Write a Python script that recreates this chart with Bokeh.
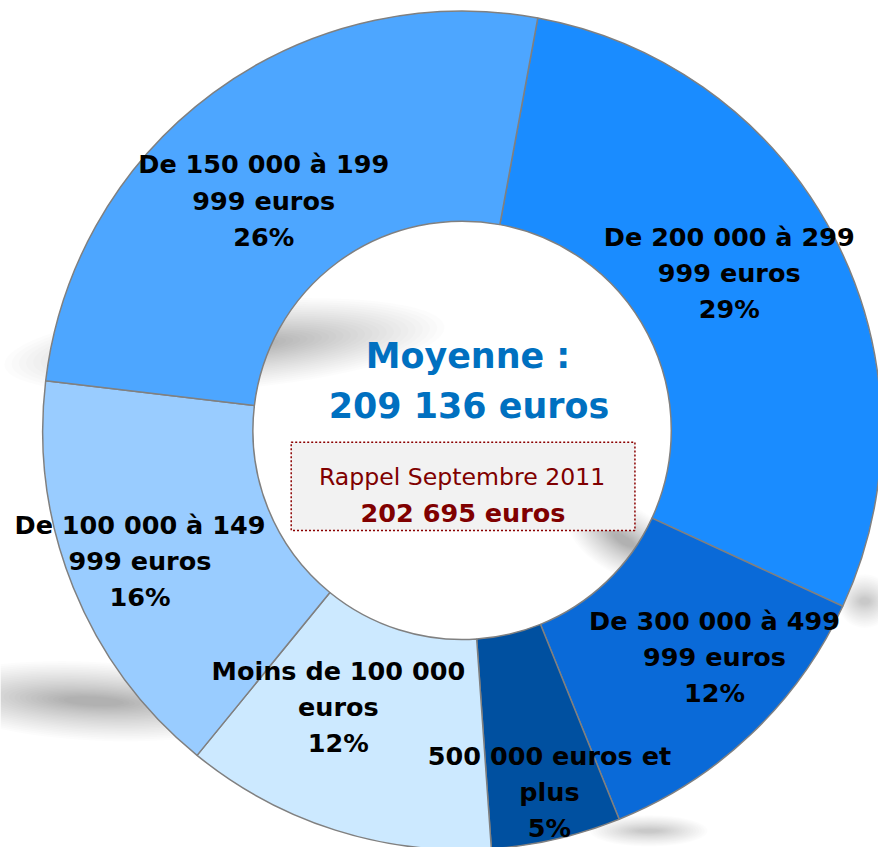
import math
from bokeh.plotting import figure
from bokeh.models import Range1d
from bokeh.embed import file_html
from bokeh.resources import INLINE
from bokeh.core.properties import value

# ---------------- data ----------------
categories = [
    "De 200 000 à 299 999 euros",
    "De 300 000 à 499 999 euros",
    "500 000 euros et plus",
    "Moins de 100 000 euros",
    "De 100 000 à 149 999 euros",
    "De 150 000 à 199 999 euros",
]
percent = [29, 12, 5, 12, 16, 26]
label_lines = [
    ["De 200 000 à 299", "999 euros"],
    ["De 300 000 à 499", "999 euros"],
    ["500 000 euros et", "plus"],
    ["Moins de 100 000", "euros"],
    ["De 100 000 à 149", "999 euros"],
    ["De 150 000 à 199", "999 euros"],
]
colors = ["#1a8cff", "#0a6ad8", "#0050a0", "#cce9ff", "#99ccff", "#4da6ff"]
mean_title = "Moyenne :"
mean_value = "209 136 euros"
recall_title = "Rappel Septembre 2011"
recall_value = "202 695 euros"

# ---------------- layout ----------------
REF_W, REF_H = 894, 863          # coordinate space of the reference
W, H = 878, 847                  # figure size (fits the window with margins)
S = W / REF_W                    # px per unit

def Y(py):
    return REF_H - py

def fs(px):
    return f"{px * S:.1f}px"

p = figure(width=W, height=H, output_backend="svg", toolbar_location=None,
           x_range=Range1d(0, REF_W), y_range=Range1d(0, REF_H),
           min_border=0)
p.axis.visible = False
p.grid.visible = False
p.outline_line_color = None
p.background_fill_color = "white"
p.border_fill_color = "white"

FONT = value("DejaVu Sans")

# soft shadows (stacked translucent ellipses)
def blob(cx, cy, w, h, ang_deg, n=26, a=0.011):
    for k in range(n):
        s = 1.0 - 0.85 * k / n
        p.ellipse(x=[cx], y=[Y(cy)], width=[w * s], height=[h * s * (0.6 + 0.4 * s)],
                  angle=[math.radians(ang_deg)], fill_color="black",
                  fill_alpha=a, line_color=None)

blob(228, 352, 450, 90, 5)
blob(95, 714, 340, 80, -3)
blob(635, 550, 130, 70, -30)
blob(880, 612, 55, 55, 0, n=18, a=0.010)
blob(660, 846, 120, 32, 0, n=18, a=0.010)

# donut
CX, CY = 470, 438
R_IN, R_OUT = 213, 427
OFFSET = 10.4  # degrees clockwise from top where the first slice starts
starts, ends = [], []
cum = 0.0
for v in percent:
    ts = OFFSET + 3.6 * cum
    te = ts + 3.6 * v
    starts.append(math.radians(90 - ts))
    ends.append(math.radians(90 - te))
    cum += v

p.annular_wedge(x=[CX] * len(percent), y=[Y(CY)] * len(percent),
                inner_radius=R_IN, outer_radius=R_OUT,
                start_angle=starts, end_angle=ends, direction="clock",
                fill_color=colors, line_color="#808080", line_width=1.5)

# slice labels: (center x, first baseline)
label_pos = [(742, 241), (727, 632), (559, 770), (344, 683), (142, 534), (268, 167)]
LH = 36.8
for lines, v, (lx, ly) in zip(label_lines, percent, label_pos):
    all_lines = lines + [f"{v}%"]
    for j, t in enumerate(all_lines):
        p.text(x=[lx], y=[Y(ly + j * LH)], text=[t], text_font=FONT,
               text_font_size=fs(26), text_font_style="bold",
               text_color="black", text_align="center",
               text_baseline="alphabetic")

# center texts
p.text(x=[476], y=[Y(362)], text=[mean_title], text_font=FONT,
       text_font_size=fs(35.5), text_font_style="bold", text_color="#0070c0",
       text_align="center", text_baseline="alphabetic")
p.text(x=[477], y=[Y(413)], text=[mean_value], text_font=FONT,
       text_font_size=fs(35.5), text_font_style="bold", text_color="#0070c0",
       text_align="center", text_baseline="alphabetic")

# recall box
bx0, bx1, by0, by1 = 296, 646, 450, 540
p.quad(left=[bx0], right=[bx1], top=[Y(by0)], bottom=[Y(by1)],
       fill_color="#f2f2f2", line_color="#8b0000", line_width=1.5,
       line_dash="2 2")
p.text(x=[470], y=[Y(485)], text=[recall_title], text_font=FONT,
       text_font_size=fs(24), text_color="#800000",
       text_align="center", text_baseline="alphabetic")
p.text(x=[471], y=[Y(522)], text=[recall_value], text_font=FONT,
       text_font_size=fs(26), text_font_style="bold", text_color="#800000",
       text_align="center", text_baseline="alphabetic")

open("out.html", "w").write(file_html(p, INLINE))
